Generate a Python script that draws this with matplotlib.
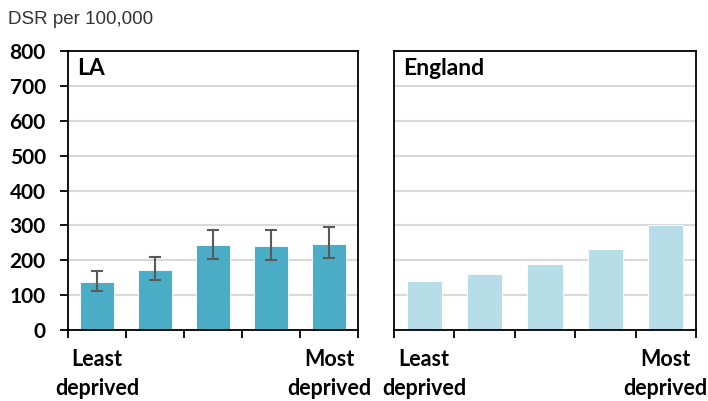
import matplotlib
matplotlib.use("Agg")
import matplotlib.pyplot as plt
import numpy as np

quintiles = ["1", "2", "3", "4", "5"]
la_values = [138, 173, 243, 240, 248]
la_lower = [113, 143, 205, 200, 206]
la_upper = [168, 208, 286, 286, 295]
eng_values = [140, 160, 190, 232, 301]
end_labels = ["Least\ndeprived", "Most\ndeprived"]
yticks = [0, 100, 200, 300, 400, 500, 600, 700, 800]

LA_COLOR = "#4BACC6"
ENG_COLOR = "#B7DEE8"
GRID = "#D9D9D9"
ERR = "#595959"
FONT = "Lato"

fig = plt.figure(figsize=(7.08, 4.01), dpi=100)
ax1 = fig.add_axes([68/708, 1-330/401, 290/708, 279/401])
ax2 = fig.add_axes([394/708, 1-330/401, 302/708, 279/401])

x = np.arange(len(quintiles))

def style(ax, title, show_y):
    ax.set_xlim(-0.5, len(quintiles) - 0.5)
    ax.set_ylim(0, 800)
    ax.set_yticks(yticks)
    ax.yaxis.grid(True, color=GRID, linewidth=1.5)
    ax.set_axisbelow(True)
    for s in ax.spines.values():
        s.set_linewidth(1.3)
        s.set_color("black")
    ax.set_xticks(np.arange(-0.5, len(quintiles)), labels=[""] * (len(quintiles) + 1))
    ax.tick_params(axis="x", which="major", direction="out", length=6, width=1.3)
    ax.set_xticks([0, len(quintiles) - 1], labels=end_labels, minor=True)
    ax.tick_params(axis="x", which="minor", length=0, pad=14)
    for lab in ax.get_xticklabels(minor=True):
        lab.set_fontfamily(FONT)
        lab.set_fontweight("bold")
        lab.set_fontsize(15.5)
        lab.set_linespacing(1.45)
        lab.set_verticalalignment("top")
    if show_y:
        ax.tick_params(axis="y", direction="out", length=6, width=1.3, pad=10)
        ax.set_yticklabels([str(v) for v in yticks], fontfamily=FONT, fontweight="bold", fontsize=15)
    else:
        ax.tick_params(axis="y", length=0, labelleft=False)
    ax.text(0.03, 0.975, title, transform=ax.transAxes, ha="left", va="top",
            fontfamily=FONT, fontweight="bold", fontsize=16.5)

err = [np.array(la_values) - np.array(la_lower), np.array(la_upper) - np.array(la_values)]
ax1.bar(x, la_values, width=0.57, color=LA_COLOR, edgecolor="white", linewidth=0.6, zorder=2)
ax1.errorbar(x, la_values, yerr=err, fmt="none", ecolor=ERR, elinewidth=1.5, capsize=4, capthick=1.5, zorder=3)
style(ax1, "LA", True)

ax2.bar(x, eng_values, width=0.58, color=ENG_COLOR, edgecolor="white", linewidth=0.6, zorder=2)
style(ax2, "England", False)

fig.text(8/708, 1-11/401, "DSR per 100,000", ha="left", va="top",
         fontfamily="Liberation Sans", fontsize=13.5, color="#333333")

fig.savefig("out.png", dpi=100)
